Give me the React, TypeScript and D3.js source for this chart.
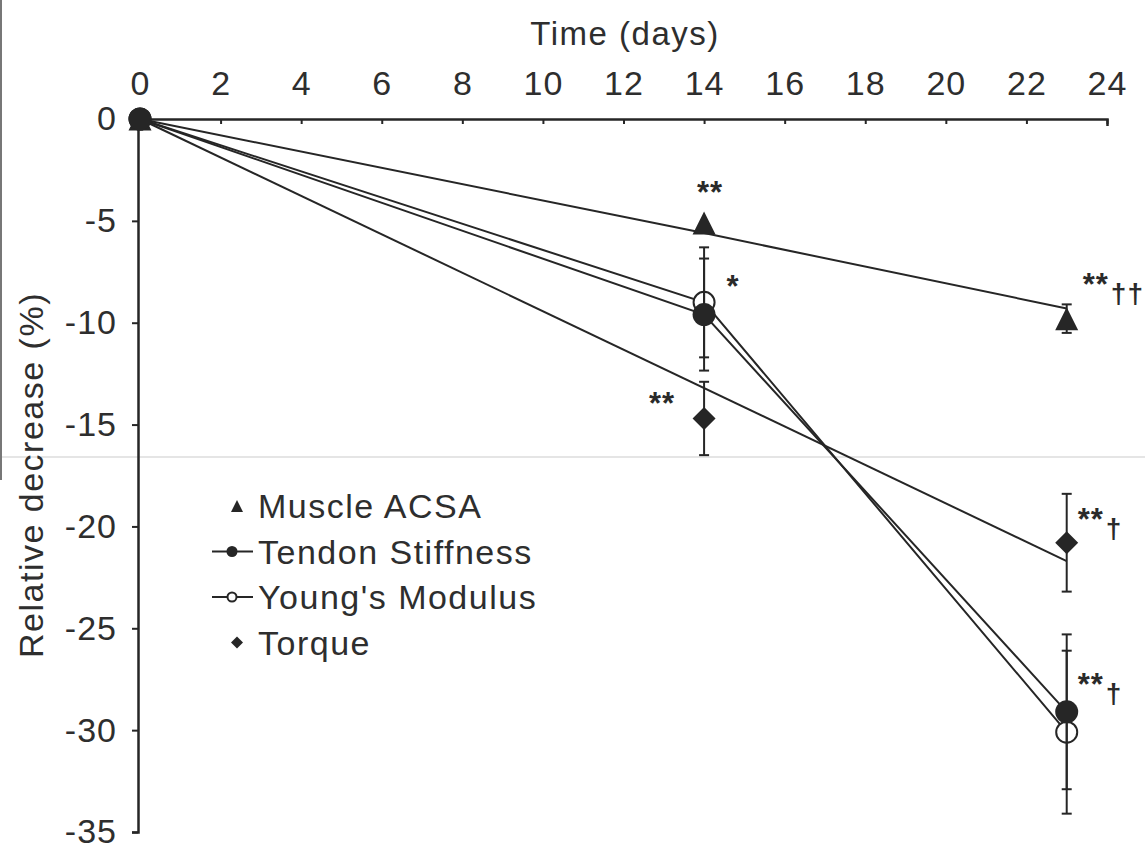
import React from "react";
import * as d3 from "d3";

// time points (days) and axis ticks
const days = [0, 14, 23];
const xTicks = [0, 2, 4, 6, 8, 10, 12, 14, 16, 18, 20, 22, 24];
const yTicks = [0, -5, -10, -15, -20, -25, -30, -35];

// relative decrease (%), mean and +/- error
const acsaMean = [0, -5.1, -9.8];
const acsaErr = [0, 0, 0.7];
const acsaLine = [0, -5.6, -9.3];

const stiffnessMean = [0, -9.6, -29.1];
const stiffnessErr = [0, 2.75, 3.8];

const modulusMean = [0, -9.0, -30.1];
const modulusErr = [0, 2.7, 4.0];

const torqueMean = [0, -14.7, -20.8];
const torqueErr = [0, 1.8, 2.4];
const torqueLineDays = [0, 23];
const torqueLine = [0, -21.7];

const legendLabels = ["Muscle ACSA", "Tendon Stiffness", "Young's Modulus", "Torque"];

// significance marks: series, time index, stars, daggers
const marks = [
  { series: "acsa", index: 1, stars: "**", daggers: "" },
  { series: "modulus", index: 1, stars: "*", daggers: "" },
  { series: "torque", index: 1, stars: "**", daggers: "" },
  { series: "acsa", index: 2, stars: "**", daggers: "††" },
  { series: "torque", index: 2, stars: "**", daggers: "†" },
  { series: "stiffness", index: 2, stars: "**", daggers: "†" },
];

const W = 1145;
const H = 851;
const INK = "#262626";
const FONT = "'Liberation Sans', Arial, Helvetica, sans-serif";

// where each mark sits relative to its point
const markOffset = {
  "acsa-1": [6, -20, "middle"],
  "modulus-1": [29, -5, "middle"],
  "torque-1": [-42, -4, "middle"],
  "acsa-2": [16, -24, "start"],
  "torque-2": [11, -13, "start"],
  "stiffness-2": [11, -17, "start"],
};

const triPath = (s) => `M0,${-s / 2}L${s / 2},${s / 2}L${-s / 2},${s / 2}Z`;
const diaPath = (s) => `M0,${-s / 2}L${s / 2},0L0,${s / 2}L${-s / 2},0Z`;

export default function App() {
  const svgRef = React.useRef(null);

  React.useEffect(() => {
    document.body.style.margin = "0";
    const svg = d3.select(svgRef.current);
    svg.selectAll("*").remove();

    const x = d3.scaleLinear().domain([0, 24]).range([140, 1107]);
    const y = d3.scaleLinear().domain([0, -35]).range([119, 832]);

    const series = {
      acsa: { mean: acsaMean, err: acsaErr, line: d3.zip(days, acsaLine), shape: "tri" },
      stiffness: { mean: stiffnessMean, err: stiffnessErr, line: d3.zip(days, stiffnessMean), shape: "dot" },
      modulus: { mean: modulusMean, err: modulusErr, line: d3.zip(days, modulusMean), shape: "ring" },
      torque: { mean: torqueMean, err: torqueErr, line: d3.zip(torqueLineDays, torqueLine), shape: "dia" },
    };

    // scan artefacts: faint horizontal crease and left edge
    svg.append("line").attr("x1", 0).attr("x2", W).attr("y1", 457).attr("y2", 457)
      .attr("stroke", "#dcdcdc").attr("stroke-width", 1.5);
    svg.append("line").attr("x1", 1).attr("x2", 1).attr("y1", 0).attr("y2", 480)
      .attr("stroke", "#777").attr("stroke-width", 2);

    // axes
    const xAxis = svg.append("g").attr("transform", `translate(0,${y(0)})`)
      .call(d3.axisTop(x).tickValues(xTicks).tickSize(-5).tickSizeOuter(-7).tickPadding(24)
        .tickFormat((d) => String(d)));
    const yAxis = svg.append("g").attr("transform", `translate(${x(0) - 2},0)`)
      .call(d3.axisLeft(y).tickValues(yTicks).tickSize(6).tickSizeOuter(6).tickPadding(15)
        .tickFormat((d) => String(d)));
    [xAxis, yAxis].forEach((g) => {
      g.select(".domain").attr("stroke", INK).attr("stroke-width", 2.5);
      g.selectAll(".tick line").attr("stroke", INK).attr("stroke-width", 2);
      g.selectAll(".tick text").attr("fill", "#2e2e2e").style("font-family", FONT)
        .style("font-size", "34px").style("letter-spacing", "1px");
    });

    svg.append("text").attr("x", 625).attr("y", 45).attr("text-anchor", "middle")
      .style("font-family", FONT).style("font-size", "33px").style("letter-spacing", "1.5px")
      .attr("fill", "#2e2e2e").text("Time (days)");
    svg.append("text").attr("transform", "translate(43,475) rotate(-90)").attr("text-anchor", "middle")
      .style("font-family", FONT).style("font-size", "34px").style("letter-spacing", "1.5px")
      .attr("fill", "#2e2e2e").text("Relative decrease (%)");

    // lines
    const line = d3.line().x((d) => x(d[0])).y((d) => y(d[1]));
    Object.values(series).forEach((s) => {
      svg.append("path").attr("d", line(s.line)).attr("fill", "none")
        .attr("stroke", INK).attr("stroke-width", 2);
    });

    const drawMarker = (g, shape, size) => {
      if (shape === "tri") g.append("path").attr("d", triPath(size)).attr("fill", INK);
      else if (shape === "dia") g.append("path").attr("d", diaPath(size)).attr("fill", INK);
      else if (shape === "dot") g.append("circle").attr("r", size / 2).attr("fill", INK);
      else g.append("circle").attr("r", size / 2 - 1).attr("fill", "#fff")
        .attr("stroke", INK).attr("stroke-width", 2);
    };

    // open circles under the error bars
    const ms = series.modulus;
    days.forEach((d, i) => {
      drawMarker(svg.append("g").attr("transform", `translate(${x(d)},${y(ms.mean[i])})`), "ring", 23);
    });

    // error bars
    Object.values(series).forEach((s) => {
      days.forEach((d, i) => {
        if (!s.err[i]) return;
        const cx = x(d);
        const y1 = y(s.mean[i] + s.err[i]);
        const y2 = y(s.mean[i] - s.err[i]);
        const eb = svg.append("g").attr("stroke", INK).attr("stroke-width", 2);
        eb.append("line").attr("x1", cx).attr("x2", cx).attr("y1", y1).attr("y2", y2);
        [y1, y2].forEach((yy) => eb.append("line").attr("x1", cx - 5).attr("x2", cx + 5)
          .attr("y1", yy).attr("y2", yy));
      });
    });

    // filled markers
    ["torque", "acsa", "stiffness"].forEach((k) => {
      const s = series[k];
      days.forEach((d, i) => {
        drawMarker(svg.append("g").attr("transform", `translate(${x(d)},${y(s.mean[i])})`), s.shape, 23);
      });
    });

    // significance marks
    marks.forEach((m) => {
      const s = series[m.series];
      const [dx, dy, anchor] = markOffset[`${m.series}-${m.index}`];
      const t = svg.append("text")
        .attr("x", x(days[m.index]) + dx).attr("y", y(s.mean[m.index]) + dy)
        .attr("text-anchor", anchor).attr("fill", "#2a2a2a")
        .style("font-family", FONT).style("font-size", "31px").style("font-weight", "bold")
        .style("letter-spacing", "1px");
      t.append("tspan").text(m.stars);
      if (m.daggers) t.append("tspan").attr("dy", 8).attr("dx", 2).style("font-size", "28px").text(m.daggers);
    });

    // legend
    const legend = svg.append("g");
    const shapes = ["tri", "dot", "ring", "dia"];
    legendLabels.forEach((label, i) => {
      const baseY = 518 + i * 45.5;
      const cy = baseY - 12;
      const row = legend.append("g");
      if (shapes[i] === "dot" || shapes[i] === "ring") {
        row.append("line").attr("x1", 212).attr("x2", 253).attr("y1", cy).attr("y2", cy)
          .attr("stroke", INK).attr("stroke-width", 2);
        drawMarker(row.append("g").attr("transform", `translate(232,${cy})`), shapes[i], 11);
      } else {
        drawMarker(row.append("g").attr("transform", `translate(237,${cy})`), shapes[i], 12);
      }
      row.append("text").attr("x", 258).attr("y", baseY).attr("fill", "#2e2e2e")
        .style("font-family", FONT).style("font-size", "34px").style("letter-spacing", "1.5px")
        .text(label);
    });
  }, []);

  return <svg ref={svgRef} width={W} height={H} style={{ display: "block", background: "#fff" }} />;
}
